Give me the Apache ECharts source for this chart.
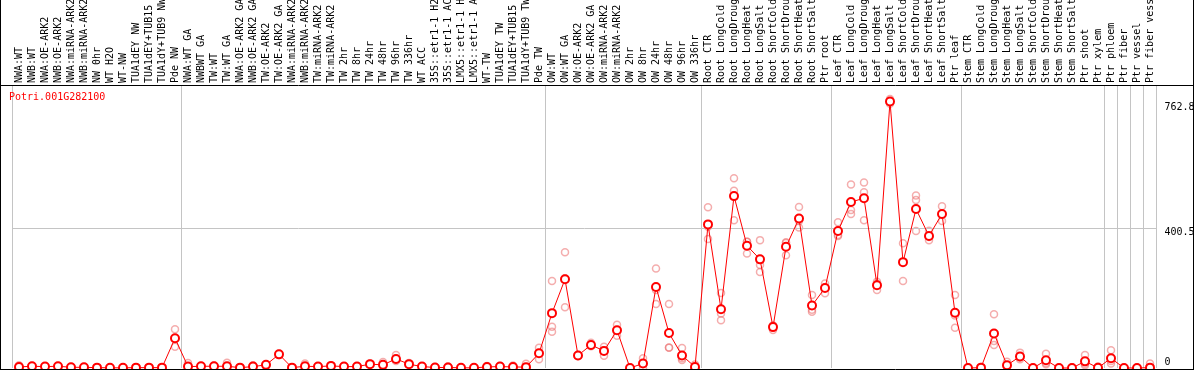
<!DOCTYPE html>
<html>
<head>
<meta charset="utf-8">
<script src="https://cdn.jsdelivr.net/npm/echarts@6/dist/echarts.min.js"></script>
<style>
html,body{margin:0;padding:0;background:#fff;}
#chart{width:1194px;height:370px;}
</style>
</head>
<body>
<div id="chart"></div>
<script>
const title = 'Potri.001G282100';

const categories = [
  'NWA:WT','NWB:WT','NWA:OE-ARK2','NWB:OE-ARK2','NWA:miRNA-ARK2','NWB:miRNA-ARK2','NW 0hr','WT H2O','WT-NW','TUA1dEY NW','TUA1dEY+TUB15','TUA1dY+TUB9 NW','Pde NW',
  'NWA:WT GA','NWBWT GA','TW:WT','TW:WT GA','NWA:OE-ARK2 GA','NWB:OE-ARK2 GA','TW:OE-ARK2','TW:OE-ARK2 GA','NWA:miRNA-ARK2','NWB:miRNA-ARK2','TW:miRNA-ARK2','TW:miRNA-ARK2',
  'TW 2hr','TW 8hr','TW 24hr','TW 48hr','TW 96hr','TW 336hr','WT ACC','35S::etr1-1 H2','35S::etr1-1 AC','LMX5::etr1-1 H','LMX5::etr1-1 A','WT-TW','TUA1dEY TW','TUA1dEY+TUB15','TUA1dY+TUB9 TW','Pde TW',
  'OW:WT','OW:WT GA','OW:OE-ARK2','OW:OE-ARK2 GA','OW:miRNA-ARK2','OW:miRNA-ARK2','OW 2hr','OW 8hr','OW 24hr','OW 48hr','OW 96hr','OW 336hr',
  'Root CTR','Root LongCold','Root LongDroug','Root LongHeat','Root LongSalt','Root ShortCold','Root ShortDrou','Root ShortHeat','Root ShortSalt','Ptr root',
  'Leaf CTR','Leaf LongCold','Leaf LongDroug','Leaf LongHeat','Leaf LongSalt','Leaf ShortCold','Leaf ShortDrou','Leaf ShortHeat','Leaf ShortSalt','Ptr leaf',
  'Stem CTR','Stem LongCold','Stem LongDroug','Stem LongHeat','Stem LongSalt','Stem ShortCold','Stem ShortDrou','Stem ShortHeat','Stem ShortSalt','Ptr shoot',
  'Ptr xylem','Ptr phloem','Ptr fiber','Ptr vessel','Ptr fiber vess'
];

// indices of categories that start a new group (separator drawn at their left edge)
const groupStarts = [0, 13, 41, 53, 63, 73, 84, 85, 86, 87];

const meanValues = [
  3,5,4,5,2,2,1,0.5,0.5,1,1,1,85,
  4,5,5,5,1,4,9,39,1,5,4,6,4,4,11,9,26,11,4,1.5,1.5,0.5,0.5,3,4,3,2.5,42,
  157,254,36,66,49,108,0,13,232,100,36,3,
  411,168,492,350,311,117,347,428,179,229,
  392,475,486,237,762.8,303,455,378,441,158,
  0,1,99,8,33,0,22,0,0,19,
  0.5,28,0,0,1
];

const rep1 = [
  8,6,5,6,3,3,2,1,1,2,2,2,111,
  14,6,7,15,2,8,11,41,2,13,5,7,5,5,13,17,37,14,5,3,5,1,1,6,6,7,12,58,
  249,331,38,72,61,124,2,28,285,183,57,10,
  460,215,543,361,366,120,358,461,209,242,
  417,525,531,247,770,357,494,393,463,209,
  2,3,154,18,44,1,41,1,2,37,
  4,51,1,1,13
];

const rep2 = [
  0,4,3,4,1,1,0,0,0,0,0,0,61,
  1,4,4,3,0,2,7,37,0,2,3,5,3,3,9,5,20,9,3,0,0,0,0,1,3,1,0,25,
  104,174,34,62,35,92,0,0,183,59,23,0,
  369,137,423,328,275,109,323,402,161,214,
  378,441,423,223,756,249,392,366,421,115,
  0,0,66,2,25,0,11,0,0,8,
  0,13,0,0,0
];

const rep3 = [
  1,5,4,5,2,2,1,0.5,0.5,1,1,1,83,
  3,5,5,4,1,3,9,39,1,4,4,6,4,4,11,8,24,10,4,1.5,1.5,0.5,0.5,3,4,3,2,43,
  118,257,36,64,50,108,0,12,223,58,28,0,
  404,156,507,361,295,122,360,421,167,231,
  381,452,503,241,762,303,481,375,439,150,
  0,0,77,4,30,0,14,0,0,12,
  0.5,20,0,0,0
];

const yTickValues = [0, 400.5, 762.8];
const yTickLabels = ['0', '400.5', '762.8'];

const mono = 'DejaVu Sans Mono';
const red = '#ff0000';
const pink = 'rgba(236,112,112,0.72)';
const gray = '#c4c4c4';

function repSeries(arr) {
  return {
    type: 'scatter',
    data: arr.map((v, i) => [i, v]),
    symbol: 'circle',
    symbolSize: 7,
    itemStyle: { color: 'rgba(0,0,0,0)', borderColor: pink, borderWidth: 1.5 },
    z: 2,
    silent: true,
    clip: false
  };
}

const chart = echarts.init(document.getElementById('chart'), null, { renderer: 'canvas' });

const isGroupStart = (idx) => groupStarts.indexOf(idx) >= 0;

chart.setOption({
  animation: false,
  backgroundColor: '#ffffff',
  title: {
    text: title,
    left: 9,
    top: 92,
    padding: 0,
    textStyle: { color: red, fontFamily: mono, fontSize: 10, fontWeight: 'normal' }
  },
  grid: { left: 12.5, right: 37.5, top: 85, bottom: 2, containLabel: false, outerBoundsMode: 'none' },
  xAxis: {
    type: 'category',
    position: 'top',
    data: categories,
    boundaryGap: true,
    axisLine: { show: false },
    axisTick: { show: true, interval: (i) => isGroupStart(i), length: 85, lineStyle: { color: gray, width: 1 } },
    splitLine: { show: true, interval: (i) => isGroupStart(i), lineStyle: { color: gray, width: 1 } },
    axisLabel: {
      interval: 0,
      rotate: 90,
      margin: 2,
      color: '#000',
      fontFamily: mono,
      fontSize: 10
    }
  },
  yAxis: {
    type: 'value',
    min: 0,
    max: 810,
    show: false
  },
  graphic: [
    { type: 'line', shape: { x1: 0, y1: 85.5, x2: 1194, y2: 85.5 }, style: { stroke: '#000', lineWidth: 1 }, z: 100 },
    { type: 'line', shape: { x1: 0.5, y1: 0, x2: 0.5, y2: 370 }, style: { stroke: '#000', lineWidth: 1 }, z: 100 },
    { type: 'line', shape: { x1: 1193.5, y1: 0, x2: 1193.5, y2: 370 }, style: { stroke: '#000', lineWidth: 1 }, z: 100 },
    { type: 'line', shape: { x1: 0, y1: 369.5, x2: 1194, y2: 369.5 }, style: { stroke: '#000', lineWidth: 1 }, z: 100 }
  ],
  series: [
    repSeries(rep1),
    repSeries(rep2),
    repSeries(rep3),
    {
      type: 'line',
      data: meanValues,
      symbol: 'emptyCircle',
      symbolSize: 8,
      showAllSymbol: true,
      lineStyle: { color: red, width: 1 },
      itemStyle: { color: red, borderColor: red, borderWidth: 1.8 },
      z: 5,
      clip: false,
      silent: true,
      markLine: {
        silent: true,
        symbol: 'none',
        animation: false,
        data: yTickValues.map((v, k) => ({
          yAxis: v,
          lineStyle: { color: (k === 1 ? gray : 'rgba(0,0,0,0)'), width: 1, type: 'solid' },
          label: {
            show: true,
            position: 'end',
            distance: 8,
            formatter: yTickLabels[k],
            color: '#000',
            fontFamily: mono,
            fontSize: 10,
            offset: [0, k === 0 ? -6 : (k === 1 ? 4 : 6)]
          }
        }))
      }
    }
  ]
});
</script>
</body>
</html>
